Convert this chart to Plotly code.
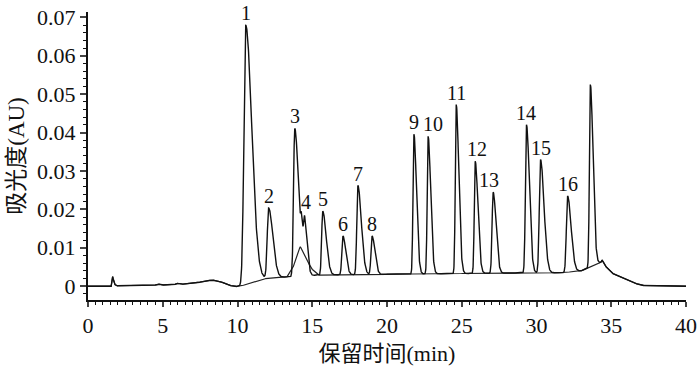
import numpy as np
import plotly.graph_objects as go

# ---- data ----
peak_labels = ["1", "2", "3", "4", "", "5", "6", "7", "8", "9", "10", "11", "12", "13", "14", "15", "16", ""]
peak_times = [10.55, 12.08, 13.83, 14.28, 14.50, 15.70, 17.05, 18.05, 19.00, 21.80, 22.75, 24.63, 25.90, 27.10, 29.33, 30.27, 32.08, 33.60]
peak_heights = [0.0675, 0.0183, 0.0386, 0.0085, 0.0110, 0.0166, 0.0101, 0.0232, 0.0100, 0.0364, 0.0358, 0.0440, 0.0292, 0.0211, 0.0386, 0.0295, 0.0198, 0.0475]
peak_left_w = [0.12, 0.09, 0.08, 0.06, 0.07, 0.07, 0.07, 0.07, 0.07, 0.06, 0.06, 0.06, 0.06, 0.07, 0.07, 0.08, 0.08, 0.06]
peak_right_w = [0.40, 0.28, 0.25, 0.16, 0.17, 0.23, 0.19, 0.23, 0.19, 0.17, 0.17, 0.17, 0.18, 0.19, 0.19, 0.23, 0.23, 0.18]

base_t = [0, 1.55, 1.65, 1.75, 1.9, 3.0, 4.5, 4.7, 4.9, 5.8, 5.95, 6.2, 7.2, 7.8, 8.3, 8.8, 9.3, 9.8, 10.2,
          11.0, 11.75, 12.8, 13.5, 15.4, 20.0, 27.6, 31.7, 33.0, 34.3, 34.4, 34.55, 35.0, 36.2, 37.0, 40.0]
base_v = [0, 0.0, 0.0025, 0.0006, 0.0001, 0.0002, 0.0003, 0.0006, 0.0003, 0.0004, 0.0008, 0.0005, 0.0008, 0.0013, 0.0016, 0.0013, 0.0004, -0.0001, 0.0,
          0.0010, 0.0019, 0.0023, 0.0024, 0.0029, 0.0031, 0.0034, 0.0035, 0.0040, 0.0062, 0.0068, 0.0055, 0.0035, 0.0013, 0.0002, 0.0]

blank_t = [13.3, 13.7, 14.0, 14.2, 14.5, 14.9, 15.4]
blank_extra = [0.0, 0.0022, 0.0060, 0.0077, 0.0055, 0.0020, 0.0]

x_ticks = [0, 5, 10, 15, 20, 25, 30, 35, 40]
y_ticks = [0, 0.01, 0.02, 0.03, 0.04, 0.05, 0.06, 0.07]
y_tick_text = ["0", "0.01", "0.02", "0.03", "0.04", "0.05", "0.06", "0.07"]

# ---- build traces ----
t = np.round(np.arange(0, 40.0001, 0.01), 4)
baseline = np.interp(t, base_t, base_v)
signal = baseline.copy()
for t0, h, sl, sr in zip(peak_times, peak_heights, peak_left_w, peak_right_w):
    s = np.where(t < t0, sl, sr)
    signal += h * np.exp(-0.5 * ((t - t0) / s) ** 2)

blank = baseline + np.interp(t, blank_t, blank_extra, left=0, right=0)

fig = go.Figure()
fig.add_trace(go.Scatter(x=t, y=blank, mode="lines", line=dict(color="#222", width=1.2),
                         hoverinfo="skip", showlegend=False))
fig.add_trace(go.Scatter(x=t, y=signal, mode="lines", line=dict(color="#111", width=1.4),
                         hoverinfo="skip", showlegend=False))

label_xshift = {"4": 5, "10": 5, "12": 2, "13": -4}
for lab, t0, h in zip(peak_labels, peak_times, peak_heights):
    if not lab:
        continue
    yv = float(np.interp(t0, t, signal))
    fig.add_annotation(x=t0, y=yv, text=lab, showarrow=False, yanchor="bottom",
                       xshift=label_xshift.get(lab, 0), yshift=-1,
                       font=dict(family="Liberation Serif", size=20, color="#111"))

serif_cjk = "Liberation Serif, Noto Sans CJK SC"
fig.update_layout(
    width=700, height=375,
    margin=dict(l=88, r=14, t=12, b=75),
    paper_bgcolor="white", plot_bgcolor="white",
    font=dict(family="Liberation Serif", color="#111"),
    xaxis=dict(range=[0, 40], tickvals=x_ticks, ticks="outside", ticklen=5, tickwidth=1.5,
               showline=True, linecolor="#111", linewidth=2, showgrid=False, zeroline=False,
               automargin=False, ticklabeloverflow="allow",
               tickfont=dict(family="Liberation Serif", size=22),
               minor=dict(dtick=0.5, ticks="outside", ticklen=3, tickcolor="#111", tickwidth=1),
               title=dict(text="保留时间(min)", font=dict(family=serif_cjk, size=22), standoff=8)),
    yaxis=dict(range=[-0.0036, 0.0714], tickvals=y_ticks, ticktext=y_tick_text, ticks="outside", ticklen=6, tickwidth=1.5,
               showline=True, linecolor="#111", linewidth=2, showgrid=False, zeroline=False,
               automargin=False, ticklabeloverflow="allow",
               tickfont=dict(family="Liberation Serif", size=22),
               minor=dict(dtick=0.002, ticks="outside", ticklen=3, tickcolor="#111", tickwidth=1),
               title=dict(text="吸光度(AU)", font=dict(family=serif_cjk, size=23), standoff=6)),
)

fig.write_html("out.html", config={"displayModeBar": False},
               post_script="document.body.style.margin='0';")
